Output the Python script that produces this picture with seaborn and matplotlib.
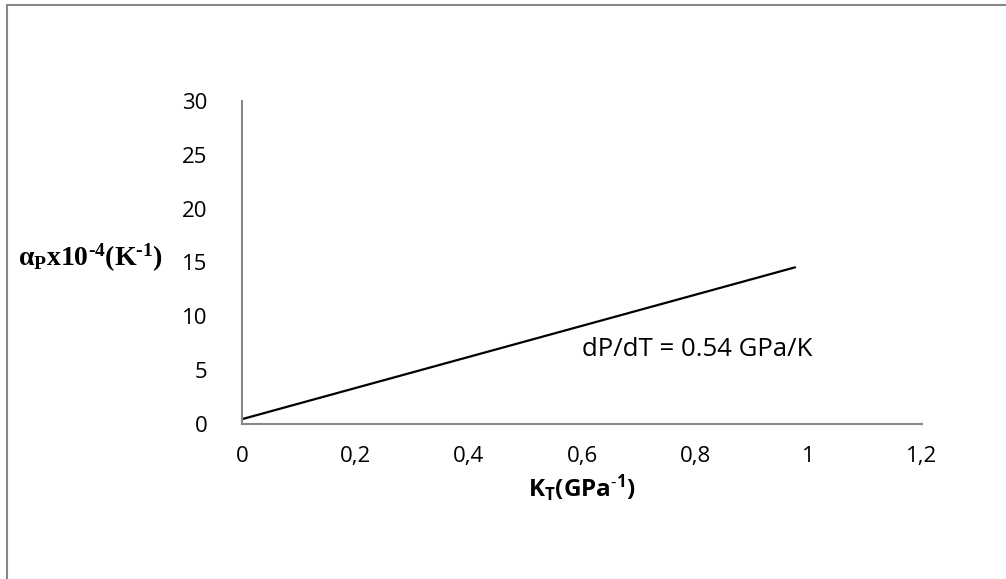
import seaborn as sns
import numpy as np
import pandas as pd
from matplotlib import pyplot as plt
from matplotlib.lines import Line2D
from matplotlib.ticker import FuncFormatter

# data
k_t = [0.0, 0.976]
alpha_p = [0.45, 14.55]
x_ticks = [0, 0.2, 0.4, 0.6, 0.8, 1.0, 1.2]
y_ticks = [0, 5, 10, 15, 20, 25, 30]
note = 'dP/dT = 0.54 GPa/K'

sns.set_theme(style='white')
plt.rcParams['font.family'] = ['Open Sans', 'DejaVu Sans']
plt.rcParams['text.color'] = 'black'
plt.rcParams['axes.labelcolor'] = 'black'
plt.rcParams['mathtext.fontset'] = 'custom'
plt.rcParams['mathtext.bf'] = 'Liberation Serif:bold'
plt.rcParams['mathtext.rm'] = 'Liberation Serif'
plt.rcParams['mathtext.sf'] = 'Open Sans:bold'

df = pd.DataFrame({'kt': k_t, 'alpha': alpha_p})

fig = plt.figure(figsize=(10.06, 5.79), dpi=100)
ax = fig.add_axes([0.2406, 0.2677, 0.9165 - 0.2406, 0.8256 - 0.2677])

sns.lineplot(data=df, x='kt', y='alpha', ax=ax, color='black', linewidth=1.6)

ax.set_xlim(0, 1.2)
ax.set_ylim(0, 30)
ax.set_xticks(x_ticks)
ax.set_yticks(y_ticks)
ax.xaxis.set_major_formatter(FuncFormatter(lambda v, p: ('%g' % v).replace('.', ',')))
ax.tick_params(axis='both', length=0, labelsize=16, colors='black')
ax.tick_params(axis='x', pad=16)
ax.tick_params(axis='y', pad=25)

for side in ['top', 'right']:
    ax.spines[side].set_visible(False)
for side in ['left', 'bottom']:
    ax.spines[side].set_color('#878787')
    ax.spines[side].set_linewidth(1.5)

hy = '\u2010'
ax.set_xlabel(r'$\mathsf{K_T(GPa^{' + hy + r'1})}$', fontsize=17.5, labelpad=4)
ax.set_ylabel('')
fig.text(0.018, 0.554, r'$\mathbf{\alpha_P x10^{' + hy + r'4}(K^{' + hy + r'1})}$',
         fontsize=20, ha='left', va='center')

ax.text(0.6, 6.9, note, fontsize=18.5, ha='left', va='center')

# outer chart frame
fig.add_artist(Line2D([7 / 1006, 7 / 1006], [0, 1 - 5 / 579], transform=fig.transFigure,
                      color='#878787', linewidth=1.5))
fig.add_artist(Line2D([7 / 1006, 1], [1 - 5 / 579, 1 - 5 / 579], transform=fig.transFigure,
                      color='#878787', linewidth=1.5))

fig.savefig('out.png', dpi=100)
